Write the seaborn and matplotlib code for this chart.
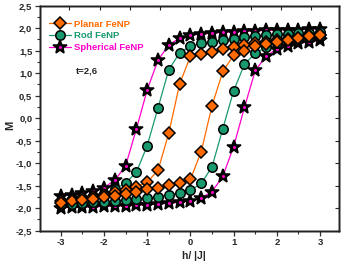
import matplotlib
matplotlib.use("Agg")
import matplotlib.pyplot as plt
import numpy as np
import seaborn as sns
from matplotlib.lines import Line2D
from matplotlib.ticker import FuncFormatter, MultipleLocator

# field values h/|J|
h = [-3.0, -2.75, -2.5, -2.25, -2.0, -1.75, -1.5, -1.25, -1.0, -0.75, -0.5, -0.25,
     0.0, 0.25, 0.5, 0.75, 1.0, 1.25, 1.5, 1.75, 2.0, 2.25, 2.5, 2.75, 3.0]

# magnetisation, descending (upper) and ascending (lower) branches
planar_up = [-1.85, -1.82, -1.78, -1.74, -1.70, -1.65, -1.60, -1.52, -1.42, -1.16, -0.33, 0.76,
             1.38, 1.43, 1.48, 1.53, 1.58, 1.63, 1.67, 1.70, 1.73, 1.76, 1.79, 1.82, 1.85]
planar_low = [-1.88, -1.85, -1.82, -1.79, -1.76, -1.72, -1.68, -1.64, -1.58, -1.54, -1.48, -1.43,
              -1.36, -0.74, 0.28, 1.04, 1.40, 1.50, 1.60, 1.65, 1.70, 1.74, 1.78, 1.82, 1.85]
rod_up = [-1.83, -1.80, -1.77, -1.73, -1.68, -1.58, -1.44, -1.20, -0.61, 0.23, 1.08, 1.45,
          1.60, 1.66, 1.70, 1.74, 1.77, 1.80, 1.82, 1.84, 1.86, 1.87, 1.89, 1.90, 1.91]
rod_low = [-1.91, -1.90, -1.89, -1.87, -1.86, -1.84, -1.82, -1.80, -1.77, -1.74, -1.70, -1.66,
           -1.60, -1.45, -1.08, -0.23, 0.61, 1.20, 1.44, 1.58, 1.68, 1.73, 1.77, 1.80, 1.83]
sph_up = [-1.73, -1.70, -1.66, -1.61, -1.54, -1.38, -1.06, -0.24, 0.63, 1.29, 1.63, 1.78,
          1.84, 1.87, 1.89, 1.91, 1.92, 1.93, 1.94, 1.95, 1.96, 1.97, 1.97, 1.98, 1.99]
sph_low = [-1.99, -1.98, -1.97, -1.97, -1.96, -1.95, -1.94, -1.93, -1.92, -1.91, -1.89, -1.87,
           -1.84, -1.77, -1.63, -1.29, -0.63, 0.24, 1.06, 1.38, 1.54, 1.61, 1.66, 1.70, 1.73]

labels = ["Planar FeNP", "Rod FeNP", "Spherical FeNP"]
colors = ["#ff6a00", "#189a6e", "#ff00cc"]
markers = ["D", "o", "*"]
msizes = [6.3, 6.8, 10.5]
faces = ["#ff6a00", "#189a6e", "black"]

sns.set_style("ticks")
plt.rcParams["font.family"] = ["Liberation Sans", "DejaVu Sans"]
plt.rcParams["font.weight"] = "bold"

fig = plt.figure(figsize=(3.44, 2.65), dpi=100)
ax = fig.add_axes([40 / 344, 1 - 230.7 / 265, 298.7 / 344, 225 / 265])

series = [(planar_up, planar_low), (rod_up, rod_low), (sph_up, sph_low)]
# spherical drawn first, planar on top
for i in [2, 1, 0]:
    for branch in series[i]:
        sns.lineplot(x=h, y=branch, ax=ax, color=colors[i], linewidth=0.9,
                     marker=markers[i], markersize=msizes[i],
                     markerfacecolor=faces[i], markeredgecolor="black",
                     markeredgewidth=1.1, sort=False, legend=False,
                     zorder=3 - i)
        if i == 2:
            # small magenta centre of the black stars
            sns.lineplot(x=h, y=branch, ax=ax, linestyle="none", marker="o",
                         markersize=2.2, markerfacecolor=colors[2],
                         markeredgewidth=0, sort=False, legend=False, zorder=1.5)

ax.set_xlim(-3.48, 3.43)
ax.set_ylim(-2.5, 2.5)

fmt = FuncFormatter(lambda v, p: f"{v:.1f}".replace(".", ","))
ax.yaxis.set_major_locator(MultipleLocator(0.5))
ax.yaxis.set_minor_locator(MultipleLocator(0.25))
ax.yaxis.set_major_formatter(fmt)
ax.xaxis.set_major_locator(MultipleLocator(1))
ax.xaxis.set_minor_locator(MultipleLocator(0.5))
ax.xaxis.set_major_formatter(FuncFormatter(lambda v, p: f"{v:.0f}"))

ax.tick_params(axis="both", which="major", direction="out", length=3.5, width=0.9,
               labelsize=6.8, pad=2, color="#333333")
ax.tick_params(axis="both", which="minor", direction="out", length=2, width=0.8,
               color="#333333")
for lab in ax.get_xticklabels() + ax.get_yticklabels():
    lab.set_fontweight("bold")

# inward ticks on top and right
axr = ax.twinx()
axr.set_ylim(ax.get_ylim())
axr.yaxis.set_major_locator(MultipleLocator(0.5))
axr.tick_params(axis="y", direction="in", length=3, width=0.8, labelright=False)
axt = ax.twiny()
axt.set_xlim(ax.get_xlim())
axt.xaxis.set_major_locator(MultipleLocator(0.7))
axt.tick_params(axis="x", direction="in", length=3, width=0.8, labeltop=False)

for a in (ax, axr, axt):
    for s in a.spines.values():
        s.set_linewidth(1.0)
        s.set_color("#222222")

fig.text(194 / 344, 1 - 256 / 265, "h/ |J|", fontsize=7.5, fontweight="bold",
         ha="center", va="center")
fig.text(10 / 344, 1 - 125 / 265, "M", fontsize=8, fontweight="bold",
         ha="center", va="center", rotation=90)

handles = []
for i in range(3):
    ln = Line2D([], [], color=colors[i], linewidth=0.9, marker=markers[i],
                markersize=msizes[i], markerfacecolor=faces[i],
                markeredgecolor="black", markeredgewidth=1.1)
    if i == 2:
        dot = Line2D([], [], linestyle="none", marker="o", markersize=2.2,
                     markerfacecolor=colors[2], markeredgewidth=0)
        handles.append((ln, dot))
    else:
        handles.append(ln)
leg = axt.legend(handles, labels, loc="upper left", bbox_to_anchor=(0.0, 0.98),
                 frameon=False, handlelength=2.3, handletextpad=0.3,
                 labelspacing=0.3, borderaxespad=0.6,
                 prop={"weight": "bold", "size": 6.8})
for txt, c in zip(leg.get_texts(), colors):
    txt.set_color(c)

ax.text(-2.65, 1.05, "t=2,6", fontsize=6.8, fontweight="bold", va="center")

fig.savefig("out.png", dpi=100)
